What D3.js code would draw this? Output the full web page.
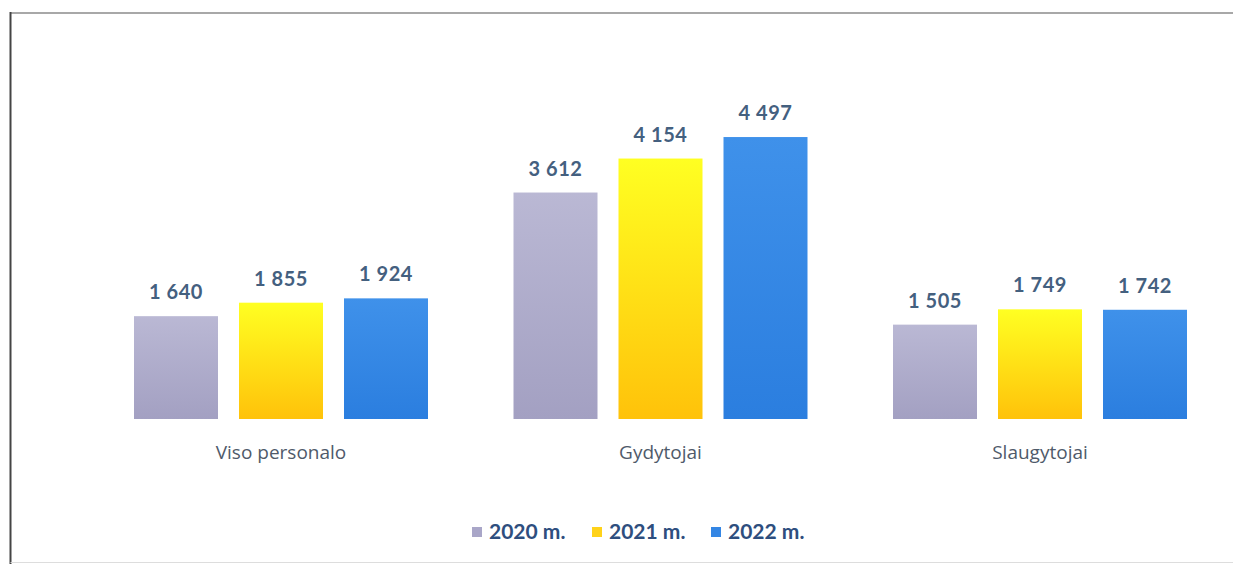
<!DOCTYPE html>
<html><head><meta charset="utf-8">
<script src="https://cdn.jsdelivr.net/npm/d3@7"></script>
<style>body{margin:0;background:#fff}svg{display:block}</style>
</head><body><svg id="c" width="1233" height="564"></svg>
<script>
const categories = ["Viso personalo", "Gydytojai", "Slaugytojai"];
const seriesNames = ["2020 m.", "2021 m.", "2022 m."];
const values2020 = [1640, 3612, 1505];
const values2021 = [1855, 4154, 1749];
const values2022 = [1924, 4497, 1742];
const valueLabels2020 = ["1 640", "3 612", "1 505"];
const valueLabels2021 = ["1 855", "4 154", "1 749"];
const valueLabels2022 = ["1 924", "4 497", "1 742"];

const series = [
  {name: seriesNames[0], values: values2020, labels: valueLabels2020, id: "g0", c: ["#BAB8D4", "#A3A0C2"], sw: "#A9A6C8"},
  {name: seriesNames[1], values: values2021, labels: valueLabels2021, id: "g1", c: ["#FFFF22", "#FFC20A"], sw: "#FFD21A"},
  {name: seriesNames[2], values: values2022, labels: valueLabels2022, id: "g2", c: ["#3F91EA", "#2B7EDF"], sw: "#3486E4"}
];

const svg = d3.select("#c");
const font = "Lato, 'Open Sans', sans-serif";

const defs = svg.append("defs");
series.forEach(s => {
  const g = defs.append("linearGradient").attr("id", s.id).attr("x1", 0).attr("y1", 0).attr("x2", 0).attr("y2", 1);
  g.append("stop").attr("offset", "0%").attr("stop-color", s.c[0]);
  g.append("stop").attr("offset", "100%").attr("stop-color", s.c[1]);
});

// frame
svg.append("line").attr("x1", 10.5).attr("x2", 1233).attr("y1", 13).attr("y2", 13).attr("stroke", "#A8A8A8").attr("stroke-width", 2);
svg.append("line").attr("x1", 10.5).attr("x2", 10.5).attr("y1", 12).attr("y2", 564).attr("stroke", "#444").attr("stroke-width", 2);
svg.append("line").attr("x1", 10.5).attr("x2", 1233).attr("y1", 562.5).attr("y2", 562.5).attr("stroke", "#DDD").attr("stroke-width", 1);

const groupW = 294;
const x0 = d3.scaleBand().domain(categories).range([91.25, 1229.75]).paddingInner(0).paddingOuter(0);
const x1 = d3.scaleBand().domain(seriesNames).range([0, groupW]).paddingInner(0.2).paddingOuter(0);
const y = d3.scaleLinear().domain([0, 5000]).range([419, 105.5]);

series.forEach(s => {
  const g = svg.append("g");
  categories.forEach((cat, i) => {
    const bx = x0(cat) + x0.bandwidth() / 2 - groupW / 2 + x1(s.name);
    g.append("rect").attr("x", bx).attr("width", x1.bandwidth())
      .attr("y", y(s.values[i])).attr("height", y(0) - y(s.values[i]))
      .attr("fill", `url(#${s.id})`);
    g.append("text").attr("x", bx + x1.bandwidth() / 2).attr("y", y(s.values[i]) - 17)
      .attr("text-anchor", "middle").attr("font-family", font).attr("font-weight", "bold")
      .attr("font-size", 20).attr("letter-spacing", 0.5).attr("fill", "#44607F").text(s.labels[i]);
  });
});

categories.forEach(cat => {
  svg.append("text").attr("x", x0(cat) + x0.bandwidth() / 2).attr("y", 459)
    .attr("text-anchor", "middle").attr("font-family", "'Open Sans', sans-serif").attr("font-size", 19)
    .attr("fill", "#4F5A6A").text(cat);
});

// legend
const legendX = [472, 592, 711];
series.forEach((s, i) => {
  svg.append("rect").attr("x", legendX[i]).attr("y", 527).attr("width", 10).attr("height", 10).attr("fill", s.sw);
  svg.append("text").attr("x", legendX[i] + 17).attr("y", 539).attr("font-family", font)
    .attr("font-weight", "bold").attr("font-size", 21).attr("fill", "#2E4E7E").text(s.name);
});
</script></body></html>
